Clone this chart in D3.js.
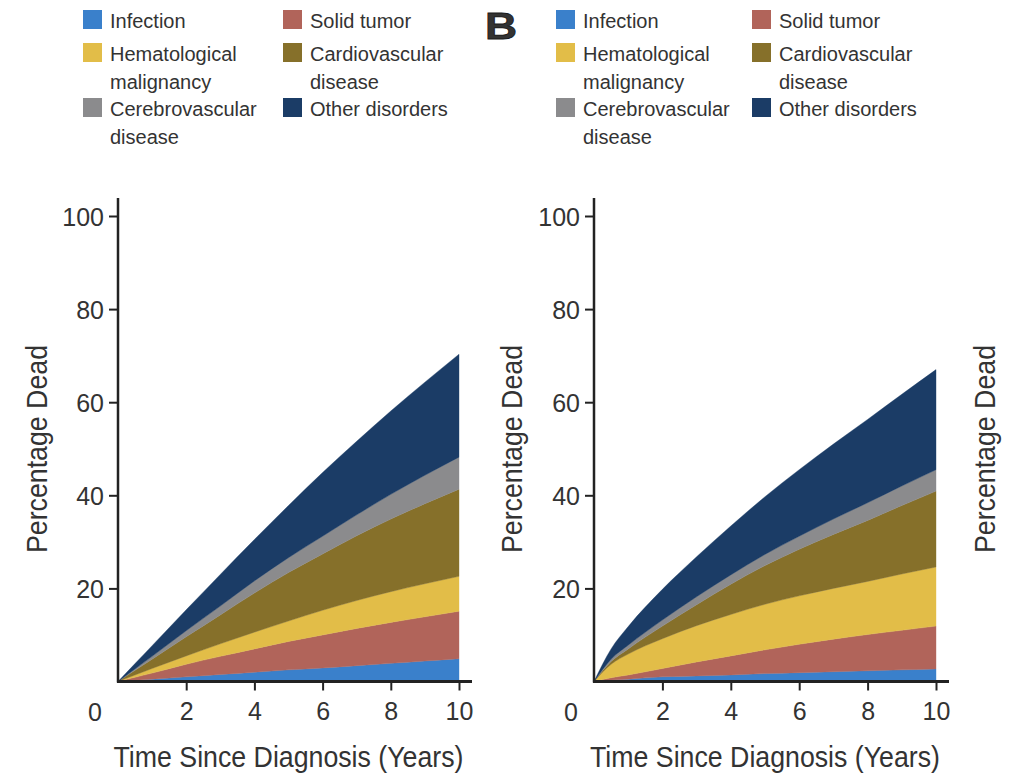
<!DOCTYPE html>
<html>
<head>
<meta charset="utf-8">
<script src="https://cdn.jsdelivr.net/npm/d3@7"></script>
<style>
  html, body { margin: 0; padding: 0; background: #fff; }
  svg { display: block; }
  text { font-family: "Liberation Sans", Arial, Helvetica, sans-serif; fill: #333; }
</style>
</head>
<body>
<svg id="chart" width="1012" height="774"></svg>
<script>
// Years since diagnosis sampled for both panels
const years = [0, 0.5, 1, 2, 3, 4, 5, 6, 7, 8, 9, 10];

// Cause-of-death categories (stack order, bottom to top)
const causes = ["infection", "solidTumor", "hematological", "cardiovascular", "cerebrovascular", "other"];
const causeLabels = [
  ["Infection"],
  ["Solid tumor"],
  ["Hematological", "malignancy"],
  ["Cardiovascular", "disease"],
  ["Cerebrovascular", "disease"],
  ["Other disorders"]
];
const causeColors = ["#3a80cb", "#b1645a", "#e2bd48", "#86702a", "#8b8b8d", "#1b3c66"];

// Panel A: percentage dead by cause (per-cause contribution)
const aInfection       = [0, 0.25, 0.5, 1.0, 1.5, 2.0, 2.5, 2.9, 3.4, 3.9, 4.4, 4.9];
const aSolidTumor      = [0, 0.65, 1.3, 2.7, 3.9, 5.0, 6.1, 7.1, 8.0, 8.8, 9.5, 10.2];
const aHematological   = [0, 0.5, 1.0, 1.8, 2.7, 3.6, 4.4, 5.3, 6.0, 6.6, 7.1, 7.5];
const aCardiovascular  = [0, 1.0, 2.0, 4.1, 6.2, 8.4, 10.4, 12.1, 13.9, 15.6, 17.2, 18.7];
const aCerebrovascular = [0, 0.3, 0.6, 1.3, 1.9, 2.6, 3.2, 3.8, 4.5, 5.3, 6.1, 6.9];
const aOther           = [0, 1.15, 2.3, 4.5, 6.8, 8.9, 11.2, 13.7, 15.8, 17.9, 20.0, 22.1];

// Panel B: percentage dead by cause (per-cause contribution)
const bInfection       = [0, 0.3, 0.5, 1.0, 1.2, 1.4, 1.7, 1.9, 2.1, 2.3, 2.5, 2.7];
const bSolidTumor      = [0, 0.5, 0.9, 1.8, 3.0, 4.1, 5.1, 6.1, 7.0, 7.8, 8.5, 9.2];
const bHematological   = [0, 2.9, 4.5, 6.4, 7.8, 8.9, 9.8, 10.4, 10.9, 11.4, 12.1, 12.7];
const bCardiovascular  = [0, 0.6, 1.1, 2.7, 4.5, 6.5, 8.3, 10.0, 11.6, 13.1, 14.7, 16.3];
const bCerebrovascular = [0, 0.5, 0.8, 1.3, 1.7, 2.0, 2.4, 2.8, 3.3, 3.8, 4.2, 4.6];
const bOther           = [0, 2.2, 4.0, 6.6, 8.6, 10.5, 12.4, 14.3, 16.1, 17.9, 19.7, 21.5];

// Axis ticks and titles
const yTicks = [20, 40, 60, 80, 100];
const xTicks = [2, 4, 6, 8, 10];
const yTitle = "Percentage Dead";
const xTitle = "Time Since Diagnosis (Years)";
const panelLetter = "B";

function buildRows(series) {
  return years.map((yr, i) => {
    const row = { year: yr };
    causes.forEach((c, k) => { row[c] = series[k][i]; });
    return row;
  });
}

const panels = [
  {
    rows: buildRows([aInfection, aSolidTumor, aHematological, aCardiovascular, aCerebrovascular, aOther]),
    xRange: [118, 459], yTitleX: 37,
    legend: { sw1: 83, tx1: 110, sw2: 283, tx2: 310 }
  },
  {
    rows: buildRows([bInfection, bSolidTumor, bHematological, bCardiovascular, bCerebrovascular, bOther]),
    xRange: [594, 936], yTitleX: 512,
    legend: { sw1: 556, tx1: 583, sw2: 752, tx2: 779 }
  }
];

const svg = d3.select("#chart");
const y = d3.scaleLinear().domain([0, 100]).range([681.5, 216]);
const stack = d3.stack().keys(causes);

// Legend layout: column and row top of each entry
const legendSlots = [
  { col: 0, top: 10 }, { col: 1, top: 10 },
  { col: 0, top: 43 }, { col: 1, top: 43 },
  { col: 0, top: 98 }, { col: 1, top: 98 }
];

function condensedTitle(sel, length) {
  return sel
    .style("font-size", "29px")
    .attr("textLength", length)
    .attr("lengthAdjust", "spacingAndGlyphs");
}

panels.forEach(p => {
  const x = d3.scaleLinear().domain([0, 10]).range(p.xRange);
  const g = svg.append("g");

  // Stacked areas
  const layers = stack(p.rows);
  const area = d3.area()
    .x(d => x(d.data.year))
    .y0(d => y(d[0]))
    .y1(d => y(d[1]))
    .curve(d3.curveMonotoneX);
  g.selectAll("path.layer")
    .data(layers)
    .join("path")
    .attr("class", "layer")
    .attr("fill", (d, i) => causeColors[i])
    .attr("stroke", (d, i) => causeColors[i])
    .attr("stroke-width", 0.4)
    .attr("d", area);

  // Y axis
  const yAxis = g.append("g")
    .attr("transform", `translate(${x(0)},0)`)
    .call(d3.axisLeft(y).tickValues(yTicks).tickSize(9).tickPadding(5));
  yAxis.select(".domain").remove();
  yAxis.selectAll(".tick line").attr("stroke", "#222").attr("stroke-width", 2);
  yAxis.selectAll(".tick text")
    .style("font-size", "25px").style("font-family", "Liberation Sans, Arial, sans-serif")
    .attr("fill", "#333").attr("dy", "0.36em");
  g.append("line")
    .attr("x1", x(0)).attr("x2", x(0))
    .attr("y1", y(0) + 1).attr("y2", y(100) - 18)
    .attr("stroke", "#222").attr("stroke-width", 2.5);

  // X axis
  const xAxis = g.append("g")
    .attr("transform", `translate(0,${y(0)})`)
    .call(d3.axisBottom(x).tickValues(xTicks).tickSize(9).tickPadding(12));
  xAxis.select(".domain").remove();
  xAxis.selectAll(".tick line").attr("stroke", "#222").attr("stroke-width", 2);
  xAxis.selectAll(".tick text")
    .style("font-size", "25px").style("font-family", "Liberation Sans, Arial, sans-serif")
    .attr("fill", "#333");
  g.append("line")
    .attr("x1", x(0) - 1).attr("x2", x(10) + 13)
    .attr("y1", y(0)).attr("y2", y(0))
    .attr("stroke", "#222").attr("stroke-width", 2.8);
  // shared origin label
  g.append("text")
    .attr("x", x(0) - 23).attr("y", 721)
    .attr("text-anchor", "middle")
    .style("font-size", "25px")
    .text("0");

  // Axis titles
  condensedTitle(
    g.append("text")
      .attr("x", (x(0) + x(10)) / 2 - 175).attr("y", 767)
      .text(xTitle), 350);
  condensedTitle(
    g.append("text")
      .attr("transform", `translate(${p.yTitleX + 10},553) rotate(-90)`)
      .text(yTitle), 208);

  // Legend
  const lg = g.append("g");
  causes.forEach((c, i) => {
    const slot = legendSlots[i];
    const sx = slot.col === 0 ? p.legend.sw1 : p.legend.sw2;
    const tx = slot.col === 0 ? p.legend.tx1 : p.legend.tx2;
    lg.append("rect")
      .attr("x", sx).attr("y", slot.top)
      .attr("width", 19).attr("height", 19)
      .attr("fill", causeColors[i]);
    causeLabels[i].forEach((line, j) => {
      lg.append("text")
        .attr("x", tx).attr("y", slot.top + 18 + j * 27.5)
        .style("font-size", "20px")
        .attr("fill", "#3a3a3a")
        .text(line);
    });
  });
});

// Partial y-axis title of the adjacent panel at the right edge
condensedTitle(
  svg.append("text")
    .attr("transform", "translate(995,553) rotate(-90)")
    .text(yTitle), 208);

// Panel letter
svg.append("text")
  .attr("x", 501).attr("y", 39)
  .attr("text-anchor", "middle")
  .style("font-size", "37px")
  .style("font-weight", "bold")
  .attr("fill", "#1a1a1a")
  .attr("stroke", "#1a1a1a")
  .attr("stroke-width", 0.8)
  .attr("transform", "translate(501,0) scale(1.2,1) translate(-501,0)")
  .text(panelLetter);
</script>
</body>
</html>
